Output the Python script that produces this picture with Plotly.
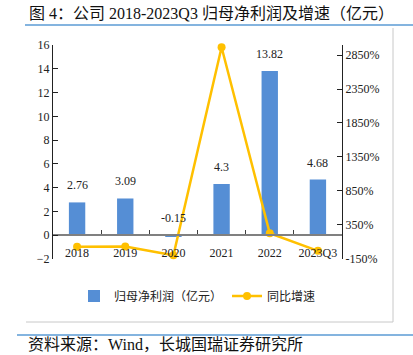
import plotly.graph_objects as go

# ---- data ----
categories = ["2018", "2019", "2020", "2021", "2022", "2023Q3"]
net_profit = [2.76, 3.09, -0.15, 4.3, 13.82, 4.68]          # 亿元
growth_pct = [20, 25, -105, 2967, 221, -40]                 # %
left_ticks = [-2, 0, 2, 4, 6, 8, 10, 12, 14, 16]
right_ticks = [-150, 350, 850, 1350, 1850, 2350, 2850]
right_labels = [f"{v}%" for v in right_ticks]

W, H = 413, 355
L, R, T, B = 53, 342, 45, 259   # plot area in page pixels

def px(x):
    return (x - L) / (R - L)

def py(y):
    return (B - y) / (B - T)

FONT = "Liberation Serif, Noto Sans CJK SC, serif"
CJK = "Noto Sans CJK SC, sans-serif"
BAR = "#558ED5"
LINE = "#FFC000"

fig = go.Figure()
fig.add_trace(go.Bar(
    x=categories, y=net_profit, name="归母净利润（亿元）",
    marker=dict(color=BAR, line=dict(width=0)), width=0.34,
    yaxis="y", xaxis="x",
))
fig.add_trace(go.Scatter(
    x=categories, y=growth_pct, name="同比增速",
    mode="lines+markers", line=dict(color=LINE, width=2.5),
    marker=dict(color=LINE, size=8), yaxis="y2", xaxis="x",
    cliponaxis=False,
))

annotations = []
for i, v in enumerate(net_profit):
    annotations.append(dict(
        x=i, y=max(v, 0), xref="x", yref="y", text=str(v),
        showarrow=False, yanchor="bottom", yshift=8,
        font=dict(family=FONT, size=12, color="#222"),
    ))

annotations.append(dict(
    x=px(27), y=py(13), xref="paper", yref="paper", xanchor="left", yanchor="middle",
    text="图 4：公司 2018-2023Q3 归母净利润及增速（亿元）", showarrow=False,
    font=dict(family=FONT, size=16, color="#111"),
))
annotations.append(dict(
    x=px(26), y=py(344), xref="paper", yref="paper", xanchor="left", yanchor="middle",
    text="资料来源：Wind，长城国瑞证券研究所", showarrow=False,
    font=dict(family=FONT, size=16, color="#111"),
))

shapes = [
    dict(type="line", xref="paper", yref="paper", x0=px(25), x1=px(413), y0=py(25), y1=py(25),
         line=dict(color="#5B9BD5", width=1.5)),
    dict(type="line", xref="paper", yref="paper", x0=px(393), x1=px(393), y0=py(28), y1=py(322),
         line=dict(color="#C8C8C8", width=1)),
    dict(type="line", xref="paper", yref="paper", x0=px(26), x1=px(393), y0=py(322), y1=py(322),
         line=dict(color="#C8C8C8", width=1)),
    dict(type="line", xref="paper", yref="paper", x0=px(17), x1=px(413), y0=py(335), y1=py(335),
         line=dict(color="#5B9BD5", width=1.5)),
]

zero_pos = (0 - left_ticks[0]) / (left_ticks[-1] - left_ticks[0])

fig.update_layout(
    width=W, height=H,
    margin=dict(l=L, r=W - R, t=T, b=H - B, pad=0, autoexpand=False),
    paper_bgcolor="white", plot_bgcolor="white",
    showlegend=True,
    legend=dict(orientation="h", x=0.5, xanchor="center", y=py(296), yanchor="middle",
                font=dict(family=CJK, size=12, color="#222"), itemwidth=30,
                bgcolor="rgba(0,0,0,0)"),
    xaxis=dict(
        type="category", anchor="free", position=zero_pos,
        range=[-0.5, len(categories) - 0.5], autorange=False,
        showline=True, linecolor="#808080", linewidth=1.5,
        ticks="inside", tickson="boundaries", ticklen=4, tickcolor="#404040",
        ticklabelstandoff=7,
        showgrid=False, zeroline=False,
        tickfont=dict(family=FONT, size=12, color="#222"),
    ),
    yaxis=dict(
        range=[-2, 16], tickvals=left_ticks, showgrid=False, zeroline=False,
        showline=True, linecolor="#222", linewidth=1,
        ticks="inside", ticklen=5, tickcolor="#222",
        tickfont=dict(family=FONT, size=12, color="#222"),
    ),
    yaxis2=dict(
        overlaying="y", side="right", range=[-160, 3000],
        tickvals=right_ticks, ticktext=right_labels,
        showgrid=False, zeroline=False,
        showline=True, linecolor="#222", linewidth=1,
        ticks="inside", ticklen=5, tickcolor="#222",
        tickfont=dict(family=FONT, size=12, color="#222"),
    ),
    annotations=annotations,
    shapes=shapes,
    bargap=0.66,
)

fig.write_html("out.html", config={"displayModeBar": False},
               post_script="document.body.style.margin='0';")
